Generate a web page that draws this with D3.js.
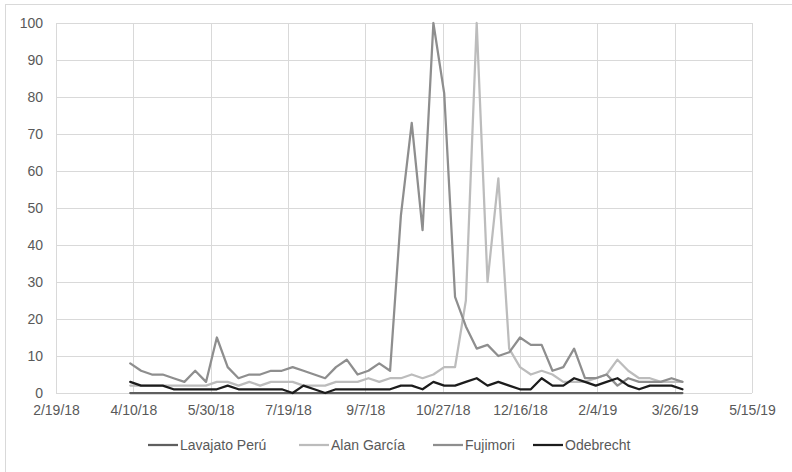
<!DOCTYPE html>
<html><head><meta charset="utf-8">
<script src="https://cdn.jsdelivr.net/npm/d3@7"></script>
<style>body{margin:0;background:#fff}svg{display:block}text{font-family:"Liberation Sans",Arial,sans-serif}</style>
</head><body><svg id="c" width="792" height="472"></svg>
<script>
const weeks = ["4/8/18","4/15/18","4/22/18","4/29/18","5/6/18","5/13/18","5/20/18","5/27/18","6/3/18","6/10/18","6/17/18","6/24/18","7/1/18","7/8/18","7/15/18","7/22/18","7/29/18","8/5/18","8/12/18","8/19/18","8/26/18","9/2/18","9/9/18","9/16/18","9/23/18","9/30/18","10/7/18","10/14/18","10/21/18","10/28/18","11/4/18","11/11/18","11/18/18","11/25/18","12/2/18","12/9/18","12/16/18","12/23/18","12/30/18","1/6/19","1/13/19","1/20/19","1/27/19","2/3/19","2/10/19","2/17/19","2/24/19","3/3/19","3/10/19","3/17/19","3/24/19","3/31/19"];
const lavajato = [0,0,0,0,0,0,0,0,0,0,0,0,0,0,0,0,0,0,0,0,0,0,0,0,0,0,0,0,0,0,0,0,0,0,0,0,0,0,0,0,0,0,0,0,0,0,0,0,0,0,0,0];
const alanGarcia = [2,2,2,2,2,2,2,2,3,3,2,3,2,3,3,3,2,2,2,3,3,3,4,3,4,4,5,4,5,7,7,25,100,30,58,12,7,5,6,5,3,3,3,4,5,9,6,4,4,3,3,3];
const fujimori = [8,6,5,5,4,3,6,3,15,7,4,5,5,6,6,7,6,5,4,7,9,5,6,8,6,48,73,44,100,81,26,18,12,13,10,11,15,13,13,6,7,12,4,4,5,2,4,3,3,3,4,3];
const odebrecht = [3,2,2,2,1,1,1,1,1,2,1,1,1,1,1,0,2,1,0,1,1,1,1,1,1,2,2,1,3,2,2,3,4,2,3,2,1,1,4,2,2,4,3,2,3,4,2,1,2,2,2,1];
const seriesNames = ["Lavajato Perú","Alan García","Fujimori","Odebrecht"];
const seriesColors = ["#5f5f5f","#bcbcbc","#8e8e8e","#1c1c1c"];
const xTickLabels = ["2/19/18","4/10/18","5/30/18","7/19/18","9/7/18","10/27/18","12/16/18","2/4/19","3/26/19","5/15/19"];
const yTicks = [0,10,20,30,40,50,60,70,80,90,100];

const parse = d3.utcParse("%m/%d/%y");
const svg = d3.select("#c");
const L=56,R=752,T=23,B=393;
svg.append("rect").attr("x",5.5).attr("y",4.5).attr("width",800).attr("height",470).attr("fill","none").attr("stroke","#d9d9d9");
const xTicks = xTickLabels.map(parse);
const x = d3.scaleUtc().domain([xTicks[0], xTicks[xTicks.length-1]]).range([L,R]);
const y = d3.scaleLinear().domain([0,100]).range([B,T]);
const grid = svg.append("g");
grid.selectAll(".h").data(yTicks).join("line").attr("x1",L).attr("x2",R).attr("y1",d=>Math.round(y(d))+0.5).attr("y2",d=>Math.round(y(d))+0.5).attr("stroke","#d9d9d9");
grid.selectAll(".v").data(xTicks).join("line").attr("y1",T).attr("y2",B).attr("x1",d=>Math.round(x(d))+0.5).attr("x2",d=>Math.round(x(d))+0.5).attr("stroke","#d9d9d9");
const yAxis = svg.append("g").attr("transform",`translate(${L},0)`).call(d3.axisLeft(y).tickValues(yTicks).tickSize(0).tickPadding(13));
yAxis.select(".domain").remove();
yAxis.selectAll("text").attr("font-size",14).attr("fill","#595959").attr("font-family","Liberation Sans");
const xAxis = svg.append("g").attr("transform",`translate(0,${B})`).call(d3.axisBottom(x).tickValues(xTicks).tickSize(0).tickPadding(12).tickFormat((d,i)=>xTickLabels[i]));
xAxis.select(".domain").remove();
xAxis.selectAll("text").attr("font-size",14).attr("fill","#595959").attr("font-family","Liberation Sans");
const dates = weeks.map(parse);
const allSeries = [lavajato, alanGarcia, fujimori, odebrecht];
const line = d3.line().x((d,i)=>x(dates[i])).y(d=>y(d)).curve(d3.curveLinear);
const order = [0,1,2,3];
order.forEach(k=>{
  svg.append("path").datum(allSeries[k]).attr("d",line).attr("fill","none").attr("stroke",seriesColors[k]).attr("stroke-width",2.25).attr("stroke-linejoin","round").attr("stroke-linecap","round");
});
// legend
const legend = svg.append("g").attr("transform","translate(0,445)");
const lx = [148,299,433,533];
seriesNames.forEach((n,k)=>{
  const g = legend.append("g").attr("transform",`translate(${lx[k]},0)`);
  g.append("line").attr("x1",0).attr("x2",30).attr("y1",0).attr("y2",0).attr("stroke",seriesColors[k]).attr("stroke-width",2.25);
  g.append("text").attr("x",32).attr("y",0).attr("dy","0.35em").attr("font-size",14).attr("fill","#595959").text(n);
});
</script></body></html>
